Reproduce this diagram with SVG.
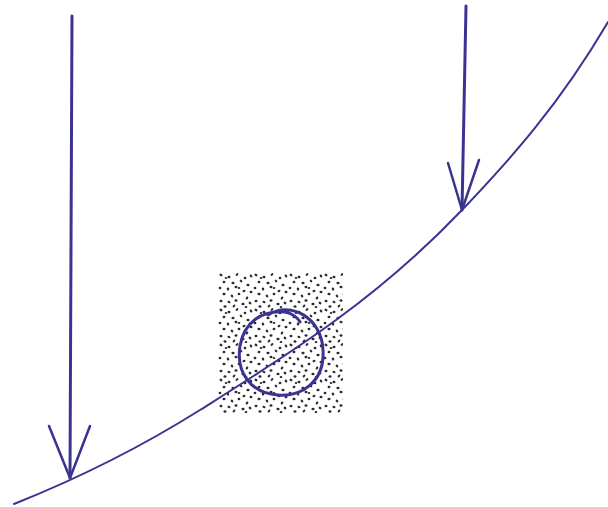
<svg xmlns="http://www.w3.org/2000/svg" width="608" height="507" viewBox="0 0 608 507">
  <style>
    .ink { fill: none; stroke: #3b3391; stroke-linecap: round; stroke-linejoin: round; }
    .dot { fill: #2a2a30; }
  </style>
  <defs>
    <pattern id="stipple" x="218" y="273" width="35" height="35" patternUnits="userSpaceOnUse">
      <g class="dot">
        <ellipse cx="3" cy="2" rx="1.6" ry="1.2" transform="rotate(30 3 2)"/>
        <ellipse cx="11" cy="4" rx="1.5" ry="1.2"/>
        <ellipse cx="19" cy="1.5" rx="1.6" ry="1.1" transform="rotate(-40 19 1.5)"/>
        <ellipse cx="27" cy="5" rx="1.4" ry="1.2"/>
        <ellipse cx="33" cy="3" rx="1.6" ry="1.2" transform="rotate(60 33 3)"/>
        <ellipse cx="6" cy="9" rx="1.5" ry="1.2" transform="rotate(-20 6 9)"/>
        <ellipse cx="15" cy="10" rx="1.6" ry="1.2"/>
        <ellipse cx="23" cy="8" rx="1.5" ry="1.1" transform="rotate(45 23 8)"/>
        <ellipse cx="30" cy="12" rx="1.6" ry="1.2"/>
        <ellipse cx="2" cy="15" rx="1.4" ry="1.2"/>
        <ellipse cx="10" cy="16" rx="1.6" ry="1.2" transform="rotate(70 10 16)"/>
        <ellipse cx="18" cy="14" rx="1.5" ry="1.2"/>
        <ellipse cx="26" cy="18" rx="1.6" ry="1.1" transform="rotate(-30 26 18)"/>
        <ellipse cx="33" cy="19" rx="1.5" ry="1.2"/>
        <ellipse cx="6" cy="21" rx="1.6" ry="1.2"/>
        <ellipse cx="14" cy="23" rx="1.5" ry="1.2" transform="rotate(50 14 23)"/>
        <ellipse cx="21" cy="21" rx="1.4" ry="1.2"/>
        <ellipse cx="29" cy="25" rx="1.6" ry="1.2" transform="rotate(-60 29 25)"/>
        <ellipse cx="3" cy="28" rx="1.5" ry="1.2"/>
        <ellipse cx="11" cy="29" rx="1.6" ry="1.1" transform="rotate(20 11 29)"/>
        <ellipse cx="18" cy="27.5" rx="1.5" ry="1.2"/>
        <ellipse cx="25" cy="31" rx="1.6" ry="1.2"/>
        <ellipse cx="32" cy="30" rx="1.5" ry="1.2" transform="rotate(40 32 30)"/>
        <ellipse cx="7" cy="33.5" rx="1.5" ry="1.2"/>
        <ellipse cx="16" cy="33" rx="1.6" ry="1.1" transform="rotate(-45 16 33)"/>
        <ellipse cx="21" cy="15" rx="1.3" ry="1.1"/>
        <ellipse cx="8" cy="5" rx="1.3" ry="1.1"/>
        <ellipse cx="28" cy="34" rx="1.3" ry="1.1"/>
      </g>
    </pattern>
  </defs>
  <rect width="608" height="507" fill="#ffffff"/>

  <g id="stipple-box">
    <rect x="218" y="273" width="125" height="140" fill="url(#stipple)"/>
  </g>

  <g id="circle">
    <path class="ink" stroke-width="3" d="M268,315 C290,300 322,318 323,350 C325,383 300,397 278,395 C250,393 236,372 240,346 C244,322 262,310 285,312 C292,313 298,318 300,322"/>
  </g>

  <g id="connectors">
    <path id="curve" class="ink" stroke-width="2" d="M14,504 C76,479.2 138,449 200,410 C287,355.2 375,301.4 462,210 C511,158.6 559,105.3 608,22"/>
    <g id="arrow-left">
      <path class="ink" stroke-width="3" d="M72,16 L70,478"/>
      <path class="ink" stroke-width="2.5" d="M49,426 L70,478 L90,426"/>
    </g>
    <g id="arrow-right">
      <path class="ink" stroke-width="3" d="M466,6 L462,210"/>
      <path class="ink" stroke-width="2.5" d="M448,163 L462,210 L479,160"/>
    </g>
  </g>
</svg>
